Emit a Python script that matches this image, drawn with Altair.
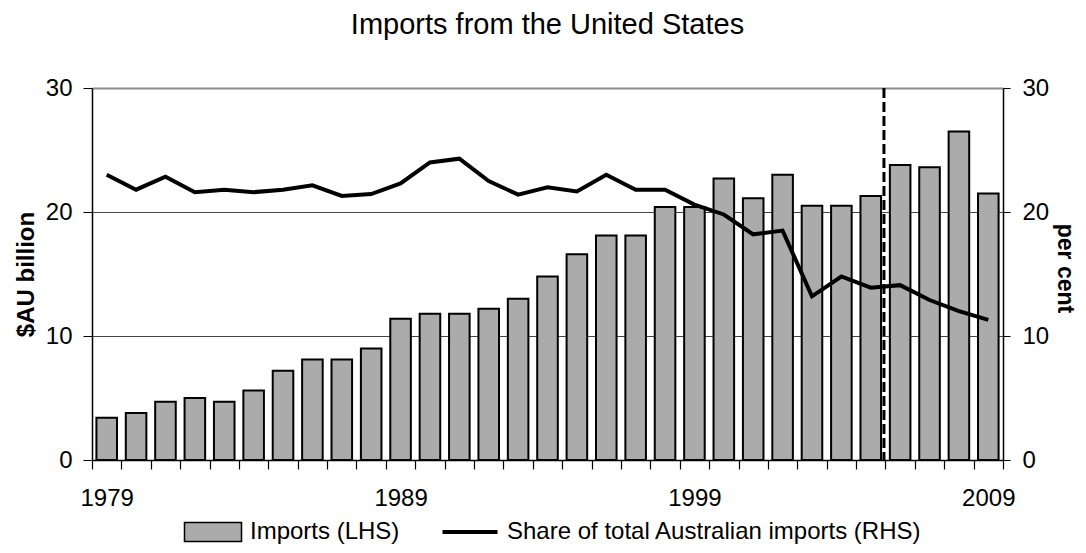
import altair as alt
import pandas as pd

years = list(range(1979, 2010))
imports_bn = [3.4, 3.8, 4.7, 5.0, 4.7, 5.6, 7.2, 8.1, 8.1, 9.0,
              11.4, 11.8, 11.8, 12.2, 13.0, 14.8, 16.6, 18.1, 18.1, 20.4,
              20.4, 22.7, 21.1, 23.0, 20.5, 20.5, 21.3, 23.8, 23.6, 26.5, 21.5]
share_pct = [23.0, 21.8, 22.85, 21.6, 21.8, 21.6, 21.8, 22.15, 21.3, 21.45,
             22.3, 24.0, 24.3, 22.5, 21.4, 22.0, 21.65, 23.0, 21.8, 21.8,
             20.6, 19.8, 18.2, 18.5, 13.2, 14.8, 13.9, 14.1, 12.9, 12.0, 11.3]
break_year = [2005]
bar_name = "Imports (LHS)"
line_name = "Share of total Australian imports (RHS)"

df = pd.DataFrame({"year": years, "imports": imports_bn, "share": share_pct,
                   "bar": bar_name, "line": line_name})
df_break = pd.DataFrame({"year": break_year})

FONT = "Liberation Sans"
x_scale = alt.Scale(paddingInner=0, paddingOuter=0)
x_axis = alt.Axis(title=None, tickBand="extent",
                  labelExpr="(datum.value - 1979) % 10 == 0 ? datum.value : ''",
                  labelAngle=0, labelOverlap=False, tickSize=9, labelPadding=17,
                  labelFontSize=24, labelFont=FONT, labelColor="black",
                  domainColor="black", domainWidth=1.5, tickColor="black", tickWidth=1.2, grid=False)

base = alt.Chart(df)

bars = base.mark_bar(stroke="black", strokeWidth=2, width=alt.RelativeBandSize(0.7)).encode(
    x=alt.X("year:O", scale=x_scale, axis=x_axis),
    y=alt.Y("imports:Q", scale=alt.Scale(domain=[0, 30]),
            axis=alt.Axis(values=[0, 10, 20, 30], title="$AU billion", titleFont=FONT,
                          titleFontSize=24, titleFontWeight="bold", titleColor="black",
                          titleAngle=-90, titleX=-59, titleY=186, titleAlign="center",
                          titleBaseline="alphabetic",
                          labelFontSize=24, labelFont=FONT, labelColor="black", labelPadding=11,
                          tickSize=9, tickColor="black", domainColor="black", domainWidth=1.5,
                          grid=True,
                          gridColor={"condition": {"test": "datum.value === 30", "value": "#8c8c8c"},
                                     "value": "#444444"},
                          gridWidth={"condition": {"test": "datum.value === 30", "value": 2},
                                     "value": 1})),
    fill=alt.Fill("bar:N", scale=alt.Scale(domain=[bar_name], range=["#ababab"]),
                  legend=alt.Legend(title=None, orient="none", legendX=109, legendY=432,
                                    symbolType="M-3,-1H3V1H-3Z", symbolSize=361,
                                    symbolStrokeColor="black", symbolStrokeWidth=1.5,
                                    labelOffset=25, labelFontSize=24, labelFont=FONT,
                                    labelColor="black", labelLimit=600, padding=0)),
)

line = base.mark_line(color="black", strokeWidth=4).encode(
    x=alt.X("year:O", scale=x_scale, axis=x_axis),
    y=alt.Y("share:Q", scale=alt.Scale(domain=[0, 30]),
            axis=alt.Axis(values=[0, 10, 20, 30], orient="right", title="per cent", titleFont=FONT,
                          titleFontSize=23, titleFontWeight="bold", titleColor="black",
                          titleAngle=90, titleX=54, titleY=180, titleAlign="center",
                          titleBaseline="alphabetic",
                          labelFontSize=24, labelFont=FONT, labelColor="black", labelPadding=12,
                          tickSize=7, tickColor="black", domainColor="black", domainWidth=1.5,
                          grid=False)),
    stroke=alt.Stroke("line:N", scale=alt.Scale(domain=[line_name], range=["black"]),
                      legend=alt.Legend(title=None, orient="none", legendX=366, legendY=432,
                                        symbolType="M-3,0H3", symbolSize=336,
                                        symbolStrokeWidth=4, labelOffset=25,
                                        labelFontSize=24, labelFont=FONT,
                                        labelColor="black", labelLimit=600, padding=0)),
)

rule = alt.Chart(df_break).mark_rule(color="black", strokeWidth=3, strokeDash=[10, 4], xOffset=-1.5).encode(
    x=alt.X("year:O", scale=x_scale, axis=x_axis, bandPosition=1),
)

chart = alt.layer(bars, line, rule).resolve_scale(
    y="independent", fill="independent", stroke="independent"
).properties(
    width=911, height=372,
    title=alt.TitleParams("Imports from the United States", font=FONT, fontSize=29,
                          fontWeight="normal", color="black", anchor="middle", offset=36),
    autosize=alt.AutoSizeParams(type="none"),
    padding={"left": 84, "top": 80, "right": 75, "bottom": 85},
).configure_view(stroke=None)

chart.save("out.html", embed_options={"renderer": "svg", "actions": False})
